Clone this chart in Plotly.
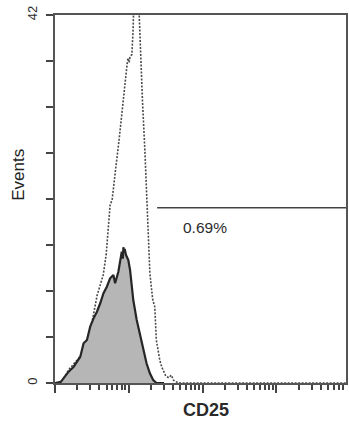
import plotly.graph_objects as go

# Open (dotted) histogram: CD25 intensity vs events
open_cd25 = [1.0, 1.08, 1.26, 1.52, 1.89, 2.20, 2.49, 2.82, 3.20, 3.51, 3.73, 4.10, 4.50, 4.93,
             5.25, 5.58, 5.94, 6.13, 6.73, 7.38, 7.85, 8.35, 8.89, 9.46, 9.75, 10.1, 10.4, 11.0,
             11.4, 11.7, 12.3, 13.0, 13.7, 14.1, 14.5, 15.3, 16.5, 17.6, 18.4, 19.3, 21.1, 22.5,
             23.6, 26.3, 28.0, 31.7, 34.8, 37.6, 40.6, 44.5, 50.0, 9000.0]
open_events = [0.0, 0.05, 0.25, 1.48, 2.40, 2.97, 3.54, 4.68, 7.19, 8.90, 10.04, 11.18, 12.33, 14.61,
               17.46, 20.31, 20.89, 22.03, 24.88, 27.73, 30.01, 32.30, 34.58, 36.29, 37.09, 36.6, 37.2, 37.5,
               40.0, 46.0, 50.0, 48.0, 43.0, 38.4, 36.0, 32.3, 26.6, 20.9, 15.2, 12.5, 9.5, 8.7,
               4.9, 2.6, 1.8, 0.8, 0.6, 0.9, 0.3, 0.1, 0.0, 0.0]

# Filled (control) histogram
fill_cd25 = [1.0, 1.19, 1.53, 1.79, 2.20, 2.44, 2.71, 3.00, 3.33, 3.70, 4.10, 4.54, 5.04, 5.58,
             6.18, 6.52, 7.22, 7.61, 8.03, 8.30, 8.45, 8.62, 8.80, 9.17, 9.85, 10.4, 11.5, 12.8,
             14.1, 15.7, 17.4, 19.3, 21.4, 23.7, 30.0]
fill_events = [0.0, 0.1, 1.29, 1.86, 3.00, 4.53, 4.91, 6.43, 7.38, 8.14, 9.10, 10.24, 10.99, 11.95,
               12.33, 11.38, 12.70, 14.04, 14.99, 14.2, 15.5, 15.0, 15.3, 14.6, 14.04, 12.9, 9.47, 7.19,
               5.67, 3.77, 2.25, 1.11, 0.34, 0.0, 0.0]

# Gate marker
gate_cd25 = [24.2, 9000.0]
gate_events = [20.0, 20.0]
gate_label = "0.69%"

y_tickvals = [0, 5.25, 10.5, 15.75, 21, 26.25, 31.5, 36.75, 42]
y_ticktext = ["0", "", "", "", "", "", "", "", "42"]

fig = go.Figure()
fig.add_trace(go.Scatter(x=open_cd25, y=open_events, mode="lines",
                         line=dict(color="#4a4a4a", width=1.6, dash="2px,1.5px"),
                         showlegend=False, hoverinfo="skip"))
fig.add_trace(go.Scatter(x=fill_cd25, y=fill_events, mode="lines", fill="tozeroy",
                         fillcolor="#b6b6b6", line=dict(color="#262626", width=2.2),
                         showlegend=False, hoverinfo="skip"))
fig.add_trace(go.Scatter(x=gate_cd25, y=gate_events, mode="lines",
                         line=dict(color="#444444", width=1.6),
                         showlegend=False, hoverinfo="skip"))

fig.update_layout(
    width=349, height=421,
    margin=dict(l=55, r=1, t=15, b=38),
    paper_bgcolor="white", plot_bgcolor="white",
    font=dict(family="Liberation Sans, Arial, sans-serif", color="#2b2b2b"),
    xaxis=dict(type="log", range=[0, 3.943], showgrid=False, zeroline=False,
               showline=True, linecolor="#555555", linewidth=2, mirror=True,
               ticks="outside", ticklen=8, tickwidth=1.8, tickcolor="#444444",
               dtick=1, showticklabels=False,
               minor=dict(ticks="outside", ticklen=5, tickwidth=1.5, tickcolor="#444444",
                          dtick="D1", showgrid=False)),
    yaxis=dict(range=[0, 42], showgrid=False, zeroline=False,
               showline=True, linecolor="#555555", linewidth=2, mirror=True,
               ticks="outside", ticklen=7, tickwidth=2, tickcolor="#444444",
               tickvals=y_tickvals, ticktext=y_ticktext, tickangle=-90,
               ticklabelstandoff=4,
               tickfont=dict(size=13, color="#2b2b2b")),
    annotations=[
        dict(text="Events", xref="paper", yref="paper", x=-0.128, y=0.565,
             textangle=-90, showarrow=False, font=dict(size=17, color="#222222"),
             xanchor="center", yanchor="middle"),
        dict(text="<b>CD25</b>", xref="paper", yref="paper", x=0.52, y=-0.074,
             showarrow=False, font=dict(size=18, color="#2a2a2a"),
             xanchor="center", yanchor="middle"),
        dict(text=gate_label, xref="paper", yref="paper", x=0.516, y=0.4226,
             showarrow=False, font=dict(size=15.5, color="#2b2b2b"),
             xanchor="center", yanchor="middle"),
    ],
)

fig.write_html("out.html")
